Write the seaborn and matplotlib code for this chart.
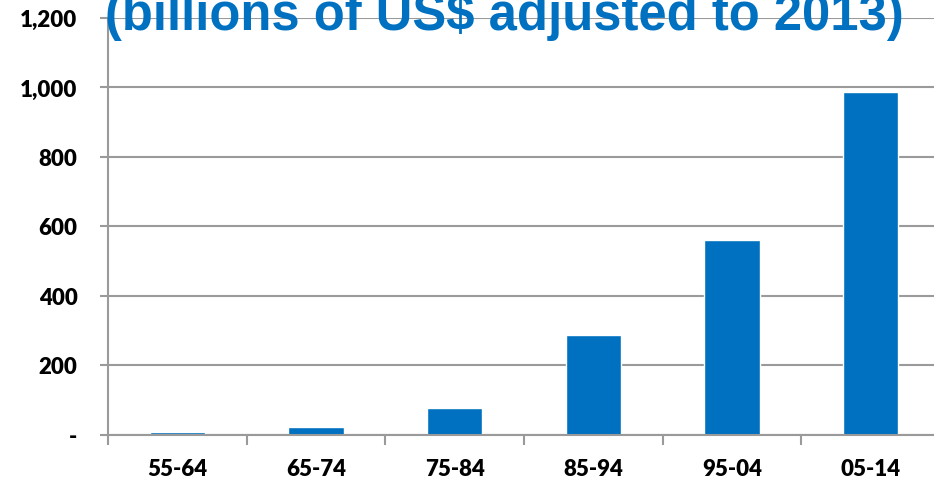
import matplotlib
matplotlib.use("Agg")
import matplotlib.pyplot as plt
import seaborn as sns
import pandas as pd
from matplotlib.ticker import FixedLocator

periods = ["55-64", "65-74", "75-84", "85-94", "95-04", "05-14"]
values = [6, 21, 76, 286, 560, 985]
y_ticks = [0, 200, 400, 600, 800, 1000, 1200]
y_labels = ["-", "200", "400", "600", "800", "1,000", "1,200"]
title = "(billions of US$ adjusted to 2013)"

sns.set_theme(style="white")
plt.rcParams["font.family"] = ["Lato", "DejaVu Sans"]

df = pd.DataFrame({"period": periods, "value": values})

W, H = 934, 481
fig = plt.figure(figsize=(W / 100, H / 100), dpi=100)
x0, x1 = 108, 940
y0, y1 = 435.5, 18.5
ax = fig.add_axes([x0 / W, (H - y0) / H, (x1 - x0) / W, (y0 - y1) / H])

sns.barplot(data=df, x="period", y="value", color="#0070C0", width=0.4,
            saturation=1, ax=ax, zorder=2)

ax.set_xlim(-0.5, len(periods) - 0.5)
ax.set_ylim(0, 1200)
ax.set_axisbelow(True)
ax.yaxis.grid(True, color="#9a9a9a", linewidth=1.5)
ax.xaxis.grid(False)

ax.set_yticks(y_ticks)
ax.set_yticklabels(y_labels, fontsize=16, fontweight="heavy", color="black")
ax.tick_params(axis="y", length=6, width=1.5, color="#9a9a9a", direction="out",
               left=True, pad=16)

ax.set_xticks(range(len(periods)))
ax.set_xticklabels(periods, fontsize=16, fontweight="heavy", color="black")
ax.tick_params(axis="x", length=0, pad=17)
ax.xaxis.set_minor_locator(FixedLocator([i - 0.5 for i in range(len(periods) + 1)]))
ax.tick_params(axis="x", which="minor", length=7, width=1.5, color="#9a9a9a",
               direction="out", bottom=True)

for s in ["top", "right"]:
    ax.spines[s].set_visible(False)
for s in ["left", "bottom"]:
    ax.spines[s].set_color("#9a9a9a")
    ax.spines[s].set_linewidth(1.5)

ax.set_xlabel("")
ax.set_ylabel("")

ax.text(0.4766, 0.9724, title, transform=ax.transAxes, ha="center", va="baseline",
        fontsize=36.5, fontweight="bold", color="#0070C0",
        family=["Liberation Sans", "DejaVu Sans"], zorder=3, clip_on=False)

fig.savefig("out.png", dpi=100)
